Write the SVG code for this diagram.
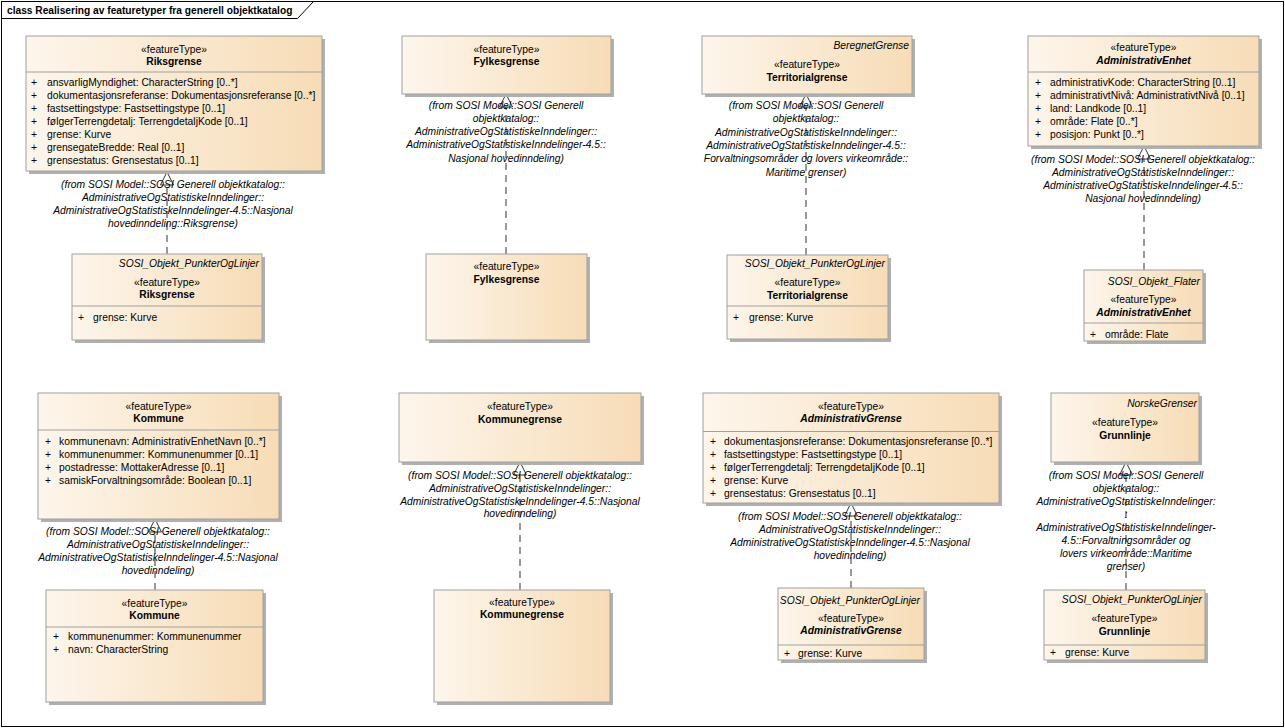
<svg xmlns="http://www.w3.org/2000/svg" width="1285" height="728" viewBox="0 0 1285 728">
<defs>
<linearGradient id="g" x1="0" y1="0" x2="1" y2="0">
<stop offset="0" stop-color="#fdf6ec"/>
<stop offset="1" stop-color="#f7dcb6"/>
</linearGradient>
<marker id="tri" markerUnits="userSpaceOnUse" markerWidth="16" markerHeight="16" refX="13" refY="6.5" orient="auto" overflow="visible">
<path d="M0,0 L13,6.5 L0,13 Z" fill="#fff" stroke="#333" stroke-width="1" stroke-dasharray="none"/>
</marker>
</defs>
<style>
text{font-family:"Liberation Sans",Arial,sans-serif;font-size:10.3px;fill:#000}
.box{fill:url(#g);stroke:#a0a0a0;stroke-width:1}
.sh{fill:#b0b0b0}
.div{stroke:#a0a0a0;stroke-width:1}
.st{text-anchor:middle}
.nm{text-anchor:middle;font-weight:bold}
.nmi{text-anchor:middle;font-weight:bold;font-style:italic}
.pkg{text-anchor:end;font-style:italic}
.note{text-anchor:middle;font-style:italic}
.conn{fill:none;stroke:#333;stroke-width:1;stroke-dasharray:7,5;marker-end:url(#tri)}
</style>
<rect x="0" y="0" width="1285" height="728" fill="#fff"/>
<g id="frame">
<rect x="1.5" y="1.5" width="1282" height="725" fill="none" stroke="#000" stroke-width="1"/>
<path d="M1.5,18.5 H297.5 L313.5,1.5" fill="none" stroke="#000" stroke-width="1"/>
<text x="7" y="14" font-weight="bold" style="font-size:10.2px">class Realisering av featuretyper fra generell objektkatalog</text>
</g>

<g id="connectors">
<path class="conn" d="M167,254 V172"/>
<path class="conn" d="M506,254 V94"/>
<path class="conn" d="M806,255 V94"/>
<path class="conn" d="M1144,270 V146"/>
<path class="conn" d="M155,590 V519"/>
<path class="conn" d="M520,590 V462"/>
<path class="conn" d="M851,588 V503"/>
<path class="conn" d="M1126,590 V462"/>
</g>

<g id="riksgrense">
<rect class="sh" x="29" y="39" width="296" height="135"/>
<rect class="box" x="26" y="36" width="296" height="135"/>
<line class="div" x1="26" y1="72" x2="322" y2="72"/>
<text class="st" x="174" y="52.5">«featureType»</text>
<text class="nm" x="174" y="64.5">Riksgrense</text>
<text x="31" y="85.5">+</text><text x="47" y="85.5">ansvarligMyndighet: CharacterString [0..*]</text>
<text x="31" y="98.5">+</text><text x="47" y="98.5">dokumentasjonsreferanse: Dokumentasjonsreferanse [0..*]</text>
<text x="31" y="111.5">+</text><text x="47" y="111.5">fastsettingstype: Fastsettingstype [0..1]</text>
<text x="31" y="124.5">+</text><text x="47" y="124.5">følgerTerrengdetalj: TerrengdetaljKode [0..1]</text>
<text x="31" y="137.5">+</text><text x="47" y="137.5">grense: Kurve</text>
<text x="31" y="150.5">+</text><text x="47" y="150.5">grensegateBredde: Real [0..1]</text>
<text x="31" y="163.5">+</text><text x="47" y="163.5">grensestatus: Grensestatus [0..1]</text>
<text class="note" x="173" y="187.5">(from SOSI Model::SOSI Generell objektkatalog::</text>
<text class="note" x="173" y="200.5">AdministrativeOgStatistiskeInndelinger::</text>
<text class="note" x="173" y="213.5">AdministrativeOgStatistiskeInndelinger-4.5::Nasjonal</text>
<text class="note" x="173" y="226.5">hovedinndeling::Riksgrense)</text>
</g>

<g id="riksgrense-sosi">
<rect class="sh" x="75" y="257" width="190" height="86"/>
<rect class="box" x="72" y="254" width="190" height="86"/>
<text class="pkg" x="259" y="266.5">SOSI_Objekt_PunkterOgLinjer</text>
<text class="st" x="167" y="285.5">«featureType»</text>
<text class="nm" x="167" y="297.5">Riksgrense</text>
<line class="div" x1="72" y1="306" x2="262" y2="306"/>
<text x="78" y="320.5">+</text><text x="93" y="320.5">grense: Kurve</text>
</g>

<g id="fylkesgrense">
<rect class="sh" x="405" y="39" width="209" height="58"/>
<rect class="box" x="402" y="36" width="209" height="58"/>
<text class="st" x="506.5" y="52.5">«featureType»</text>
<text class="nm" x="506.5" y="64.5">Fylkesgrense</text>
<text class="note" x="506" y="108.5">(from SOSI Model::SOSI Generell</text>
<text class="note" x="506" y="121.8">objektkatalog::</text>
<text class="note" x="506" y="135.1">AdministrativeOgStatistiskeInndelinger::</text>
<text class="note" x="506" y="148.4">AdministrativeOgStatistiskeInndelinger-4.5::</text>
<text class="note" x="506" y="161.7">Nasjonal hovedinndeling)</text>
</g>

<g id="fylkesgrense-sosi">
<rect class="sh" x="429" y="257" width="161" height="86"/>
<rect class="box" x="426" y="254" width="161" height="86"/>
<text class="st" x="506.5" y="269.5">«featureType»</text>
<text class="nm" x="506.5" y="282.5">Fylkesgrense</text>
</g>

<g id="territorialgrense">
<rect class="sh" x="705" y="39" width="210" height="58"/>
<rect class="box" x="702" y="36" width="210" height="58"/>
<text class="pkg" x="909" y="48.5">BeregnetGrense</text>
<text class="st" x="807" y="67.5">«featureType»</text>
<text class="nm" x="807" y="80.5">Territorialgrense</text>
<text class="note" x="806" y="109">(from SOSI Model::SOSI Generell</text>
<text class="note" x="806" y="122.3">objektkatalog::</text>
<text class="note" x="806" y="135.6">AdministrativeOgStatistiskeInndelinger::</text>
<text class="note" x="806" y="148.9">AdministrativeOgStatistiskeInndelinger-4.5::</text>
<text class="note" x="806" y="162.2">Forvaltningsområder og lovers virkeområde::</text>
<text class="note" x="806" y="175.5">Maritime grenser)</text>
</g>

<g id="territorialgrense-sosi">
<rect class="sh" x="730" y="258" width="161" height="84"/>
<rect class="box" x="727" y="255" width="161" height="84"/>
<text class="pkg" x="885" y="266.5">SOSI_Objekt_PunkterOgLinjer</text>
<text class="st" x="807.5" y="286">«featureType»</text>
<text class="nm" x="807.5" y="298.5">Territorialgrense</text>
<line class="div" x1="727" y1="306" x2="888" y2="306"/>
<text x="733" y="321">+</text><text x="749" y="321">grense: Kurve</text>
</g>

<g id="administrativenhet">
<rect class="sh" x="1031" y="39" width="231" height="110"/>
<rect class="box" x="1028" y="36" width="231" height="110"/>
<text class="st" x="1143.5" y="51">«featureType»</text>
<text class="nmi" x="1143.5" y="63.5">AdministrativEnhet</text>
<line class="div" x1="1028" y1="72" x2="1259" y2="72"/>
<text x="1035" y="86">+</text><text x="1050" y="86">administrativKode: CharacterString [0..1]</text>
<text x="1035" y="99">+</text><text x="1050" y="99">administrativtNivå: AdministrativtNivå [0..1]</text>
<text x="1035" y="112">+</text><text x="1050" y="112">land: Landkode [0..1]</text>
<text x="1035" y="125">+</text><text x="1050" y="125">område: Flate [0..*]</text>
<text x="1035" y="138">+</text><text x="1050" y="138">posisjon: Punkt [0..*]</text>
<text class="note" x="1143" y="162.5">(from SOSI Model::SOSI Generell objektkatalog::</text>
<text class="note" x="1143" y="175.5">AdministrativeOgStatistiskeInndelinger::</text>
<text class="note" x="1143" y="188.5">AdministrativeOgStatistiskeInndelinger-4.5::</text>
<text class="note" x="1143" y="201.5">Nasjonal hovedinndeling)</text>
</g>

<g id="administrativenhet-sosi">
<rect class="sh" x="1087" y="273" width="119" height="71"/>
<rect class="box" x="1084" y="270" width="119" height="71"/>
<text class="pkg" x="1200" y="284.5">SOSI_Objekt_Flater</text>
<text class="st" x="1143.5" y="302.5">«featureType»</text>
<text class="nmi" x="1143.5" y="315.5">AdministrativEnhet</text>
<line class="div" x1="1084" y1="323" x2="1203" y2="323"/>
<text x="1090" y="337.5">+</text><text x="1105" y="337.5">område: Flate</text>
</g>

<g id="kommune">
<rect class="sh" x="41" y="396" width="241" height="126"/>
<rect class="box" x="38" y="393" width="241" height="126"/>
<text class="st" x="158.5" y="410">«featureType»</text>
<text class="nm" x="158.5" y="421.5">Kommune</text>
<line class="div" x1="38" y1="430" x2="279" y2="430"/>
<text x="45" y="445">+</text><text x="59" y="445">kommunenavn: AdministrativEnhetNavn [0..*]</text>
<text x="45" y="458">+</text><text x="59" y="458">kommunenummer: Kommunenummer [0..1]</text>
<text x="45" y="471">+</text><text x="59" y="471">postadresse: MottakerAdresse [0..1]</text>
<text x="45" y="484">+</text><text x="59" y="484">samiskForvaltningsområde: Boolean [0..1]</text>
<text class="note" x="158" y="535">(from SOSI Model::SOSI Generell objektkatalog::</text>
<text class="note" x="158" y="548">AdministrativeOgStatistiskeInndelinger::</text>
<text class="note" x="158" y="561">AdministrativeOgStatistiskeInndelinger-4.5::Nasjonal</text>
<text class="note" x="158" y="574">hovedinndeling)</text>
</g>

<g id="kommune-sosi">
<rect class="sh" x="49" y="593" width="217" height="112"/>
<rect class="box" x="46" y="590" width="217" height="112"/>
<text class="st" x="154.5" y="606.5">«featureType»</text>
<text class="nm" x="154.5" y="618.5">Kommune</text>
<line class="div" x1="46" y1="627" x2="263" y2="627"/>
<text x="53" y="639.5">+</text><text x="68" y="639.5">kommunenummer: Kommunenummer</text>
<text x="53" y="652.5">+</text><text x="68" y="652.5">navn: CharacterString</text>
</g>

<g id="kommunegrense">
<rect class="sh" x="402" y="396" width="242" height="69"/>
<rect class="box" x="399" y="393" width="242" height="69"/>
<text class="st" x="520" y="410">«featureType»</text>
<text class="nm" x="520" y="422.5">Kommunegrense</text>
<text class="note" x="520" y="479">(from SOSI Model::SOSI Generell objektkatalog::</text>
<text class="note" x="520" y="491.8">AdministrativeOgStatistiskeInndelinger::</text>
<text class="note" x="520" y="504.6">AdministrativeOgStatistiskeInndelinger-4.5::Nasjonal</text>
<text class="note" x="520" y="517.4">hovedinndeling)</text>
</g>

<g id="kommunegrense-sosi">
<rect class="sh" x="437" y="593" width="176" height="112"/>
<rect class="box" x="434" y="590" width="176" height="112"/>
<text class="st" x="522" y="605.5">«featureType»</text>
<text class="nm" x="522" y="617.5">Kommunegrense</text>
</g>

<g id="administrativgrense">
<rect class="sh" x="706" y="396" width="296" height="110"/>
<rect class="box" x="703" y="393" width="296" height="110"/>
<text class="st" x="851" y="409.5">«featureType»</text>
<text class="nmi" x="851" y="421.5">AdministrativGrense</text>
<line class="div" x1="703" y1="431.5" x2="999" y2="431.5"/>
<text x="710" y="444.5">+</text><text x="724" y="444.5">dokumentasjonsreferanse: Dokumentasjonsreferanse [0..*]</text>
<text x="710" y="457.5">+</text><text x="724" y="457.5">fastsettingstype: Fastsettingstype [0..1]</text>
<text x="710" y="470.5">+</text><text x="724" y="470.5">følgerTerrengdetalj: TerrengdetaljKode [0..1]</text>
<text x="710" y="483.5">+</text><text x="724" y="483.5">grense: Kurve</text>
<text x="710" y="496.5">+</text><text x="724" y="496.5">grensestatus: Grensestatus [0..1]</text>
<text class="note" x="850" y="519.5">(from SOSI Model::SOSI Generell objektkatalog::</text>
<text class="note" x="850" y="532.5">AdministrativeOgStatistiskeInndelinger::</text>
<text class="note" x="850" y="545.5">AdministrativeOgStatistiskeInndelinger-4.5::Nasjonal</text>
<text class="note" x="850" y="558.5">hovedinndeling)</text>
</g>

<g id="administrativgrense-sosi">
<rect class="sh" x="781" y="591" width="146" height="72"/>
<rect class="box" x="778" y="588" width="146" height="72"/>
<text class="pkg" x="920" y="603.5">SOSI_Objekt_PunkterOgLinjer</text>
<text class="st" x="851" y="621.5">«featureType»</text>
<text class="nmi" x="851" y="633.5">AdministrativGrense</text>
<line class="div" x1="778" y1="645" x2="924" y2="645"/>
<text x="784" y="656.5">+</text><text x="798" y="656.5">grense: Kurve</text>
</g>

<g id="grunnlinje">
<rect class="sh" x="1054" y="396" width="148" height="69"/>
<rect class="box" x="1051" y="393" width="148" height="69"/>
<text class="pkg" x="1197" y="406.5">NorskeGrenser</text>
<text class="st" x="1125" y="425.5">«featureType»</text>
<text class="nm" x="1125" y="438.5">Grunnlinje</text>
<text class="note" x="1126" y="478.5">(from SOSI Model::SOSI Generell</text>
<text class="note" x="1126" y="491.5">objektkatalog::</text>
<text class="note" x="1126" y="504.5">AdministrativeOgStatistiskeInndelinger:</text>
<text class="note" x="1126" y="517.5">:</text>
<text class="note" x="1126" y="530.5">AdministrativeOgStatistiskeInndelinger-</text>
<text class="note" x="1126" y="543.5">4.5::Forvaltningsområder og</text>
<text class="note" x="1126" y="556.5">lovers virkeområde::Maritime</text>
<text class="note" x="1126" y="569.5">grenser)</text>
</g>

<g id="grunnlinje-sosi">
<rect class="sh" x="1047" y="593" width="161" height="70"/>
<rect class="box" x="1044" y="590" width="161" height="70"/>
<text class="pkg" x="1202" y="602.5">SOSI_Objekt_PunkterOgLinjer</text>
<text class="st" x="1124.5" y="621.5">«featureType»</text>
<text class="nm" x="1124.5" y="634.5">Grunnlinje</text>
<line class="div" x1="1044" y1="645" x2="1205" y2="645"/>
<text x="1050" y="655.5">+</text><text x="1065" y="655.5">grense: Kurve</text>
</g>
</svg>
